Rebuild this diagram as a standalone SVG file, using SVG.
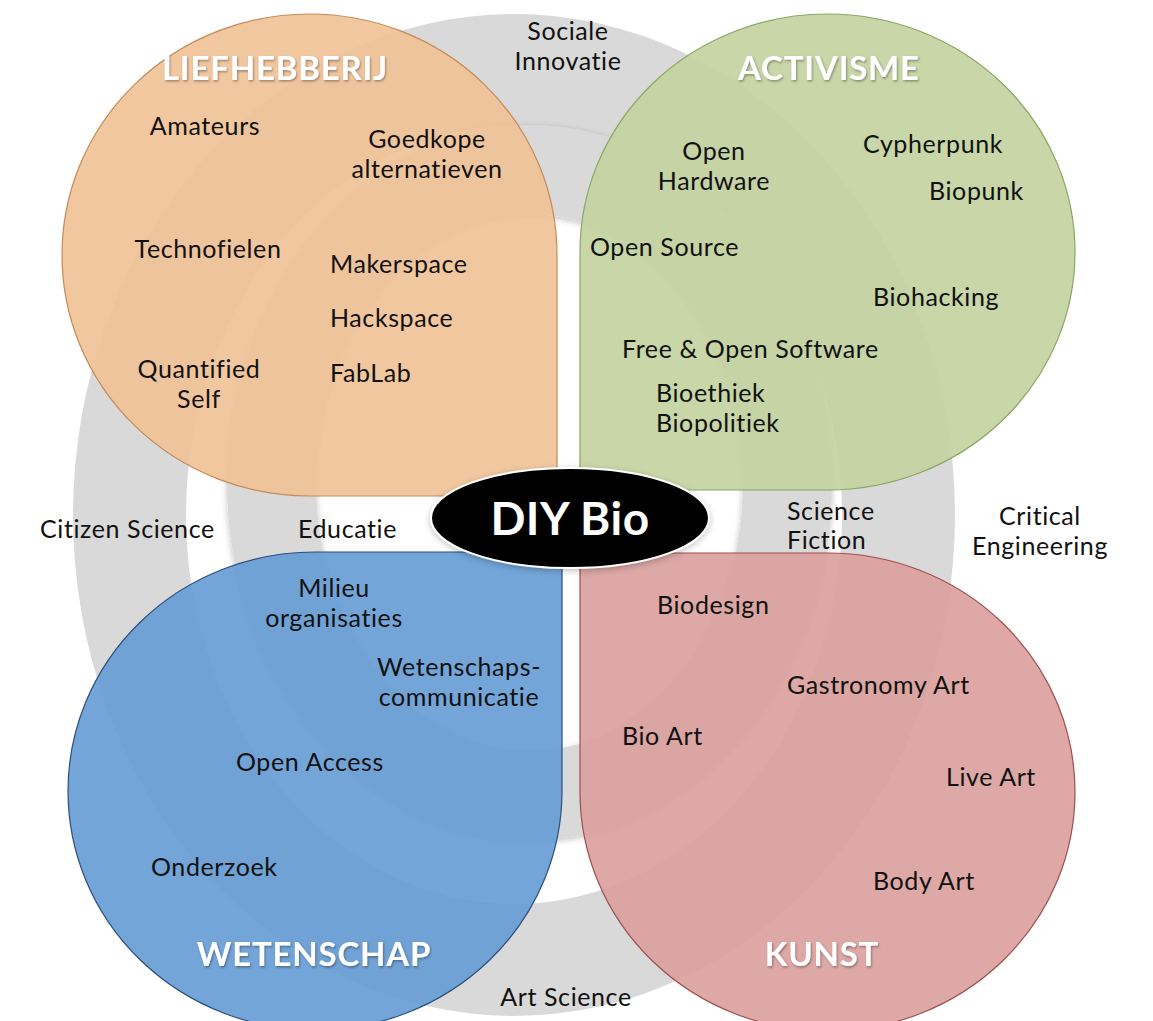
<svg xmlns="http://www.w3.org/2000/svg" width="1153" height="1021" viewBox="0 0 1153 1021">
  <defs>
    <filter id="softShadow" x="-10%" y="-10%" width="120%" height="120%">
      <feDropShadow dx="0" dy="2" stdDeviation="3" flood-color="#000" flood-opacity="0.25"/>
    </filter>
    <filter id="textShadow" x="-10%" y="-20%" width="120%" height="140%">
      <feDropShadow dx="1" dy="1.5" stdDeviation="1" flood-color="#000" flood-opacity="0.35"/>
    </filter>
  </defs>
  <style>
    .ring { fill: #d9d9d9; fill-rule: evenodd; }
    .petal { stroke-width: 1.2; fill-opacity: 0.9; }
    .lbl { font-family: Lato, "Liberation Sans", sans-serif; font-size: 25px; letter-spacing: 0.6px; fill: #111; }
    .mid { text-anchor: middle; }
    .head { font-family: Lato, "Liberation Sans", sans-serif; font-weight: bold; font-size: 33px; letter-spacing: 0.8px; fill: #fff; text-anchor: middle; filter: url(#textShadow); }
    .core { font-family: Lato, "Liberation Sans", sans-serif; font-weight: bold; font-size: 46px; letter-spacing: 0.5px; fill: #fff; text-anchor: middle; }
  </style>

  <rect width="1153" height="1021" fill="#fff"/>

  <!-- background rings -->
  <g id="rings">
    <path class="ring" d="M 73,515 A 441 501 0 1 0 955,515 A 441 501 0 1 0 73,515 Z M 186,515 A 328 389 0 1 1 842,515 A 328 389 0 1 1 186,515 Z"/>
    <path class="ring" filter="url(#softShadow)" d="M 227,482.5 A 302.5 357.5 0 1 0 832,482.5 A 302.5 357.5 0 1 0 227,482.5 Z M 316,482.5 A 213.5 268.5 0 1 1 743,482.5 A 213.5 268.5 0 1 1 316,482.5 Z"/>
  </g>

  <!-- ring labels -->
  <g id="ring-labels">
    <text class="lbl mid" x="568" y="40">Sociale</text>
    <text class="lbl mid" x="568" y="70">Innovatie</text>
    <text class="lbl" x="40" y="538">Citizen Science</text>
    <text class="lbl" x="298" y="538">Educatie</text>
    <text class="lbl" x="787" y="520">Science</text>
    <text class="lbl" x="787" y="549">Fiction</text>
    <text class="lbl mid" x="1040" y="525">Critical</text>
    <text class="lbl mid" x="1040" y="555">Engineering</text>
    <text class="lbl mid" x="566" y="1006">Art Science</text>
  </g>

  <!-- LIEFHEBBERIJ -->
  <g id="liefhebberij">
    <path class="petal" fill="#f0c196" stroke="#c58a55" d="M 557,496 L 309.5,496 A 247.5 241 0 0 1 62,255 A 247.5 241 0 0 1 309.5,14 A 247.5 241 0 0 1 557,255 Z"/>
    <text class="head" x="275" y="80">LIEFHEBBERIJ</text>
    <text class="lbl mid" x="205" y="135">Amateurs</text>
    <text class="lbl mid" x="427" y="148">Goedkope</text>
    <text class="lbl mid" x="427" y="178">alternatieven</text>
    <text class="lbl mid" x="208" y="258">Technofielen</text>
    <text class="lbl" x="330" y="273">Makerspace</text>
    <text class="lbl" x="330" y="327">Hackspace</text>
    <text class="lbl" x="330" y="382">FabLab</text>
    <text class="lbl mid" x="199" y="378">Quantified</text>
    <text class="lbl mid" x="199" y="408">Self</text>
  </g>

  <!-- ACTIVISME -->
  <g id="activisme">
    <path class="petal" fill="#c2d29e" stroke="#8aa565" d="M 580,490 L 580,252 A 247.5 238 0 0 1 827.5,14 A 247.5 238 0 0 1 1075,252 A 247.5 238 0 0 1 827.5,490 Z"/>
    <text class="head" x="829" y="80">ACTIVISME</text>
    <text class="lbl mid" x="714" y="160">Open</text>
    <text class="lbl mid" x="714" y="190">Hardware</text>
    <text class="lbl" x="863" y="153">Cypherpunk</text>
    <text class="lbl" x="929" y="200">Biopunk</text>
    <text class="lbl" x="590" y="256">Open Source</text>
    <text class="lbl" x="873" y="306">Biohacking</text>
    <text class="lbl" x="622" y="358">Free &amp; Open Software</text>
    <text class="lbl" x="656" y="402">Bioethiek</text>
    <text class="lbl" x="656" y="432">Biopolitiek</text>
  </g>

  <!-- WETENSCHAP -->
  <g id="wetenschap">
    <path class="petal" fill="#649bd4" stroke="#2c4f7c" d="M 562,552 L 562,791 A 247 239 0 0 1 315,1030 A 247 239 0 0 1 68,791 A 247 239 0 0 1 315,552 Z"/>
    <text class="lbl mid" x="334" y="597">Milieu</text>
    <text class="lbl mid" x="334" y="627">organisaties</text>
    <text class="lbl mid" x="459" y="676">Wetenschaps-</text>
    <text class="lbl mid" x="459" y="706">communicatie</text>
    <text class="lbl" x="236" y="771">Open Access</text>
    <text class="lbl" x="151" y="876">Onderzoek</text>
    <text class="head" x="314" y="966">WETENSCHAP</text>
  </g>

  <!-- KUNST -->
  <g id="kunst">
    <path class="petal" fill="#d99e9c" stroke="#9e4f4d" d="M 580,553 L 827.5,553 A 247.5 239 0 0 1 1075,792 A 247.5 239 0 0 1 827.5,1031 A 247.5 239 0 0 1 580,792 Z"/>
    <text class="lbl" x="657" y="614">Biodesign</text>
    <text class="lbl" x="787" y="694">Gastronomy Art</text>
    <text class="lbl" x="622" y="745">Bio Art</text>
    <text class="lbl" x="946" y="786">Live Art</text>
    <text class="lbl" x="873" y="890">Body Art</text>
    <text class="head" x="822" y="966">KUNST</text>
  </g>

  <!-- centre -->
  <g id="diy-bio">
    <ellipse cx="570" cy="518" rx="139" ry="50" fill="#000" stroke="#fff" stroke-width="2" filter="url(#softShadow)"/>
    <text class="core" x="570" y="535">DIY Bio</text>
  </g>
</svg>
